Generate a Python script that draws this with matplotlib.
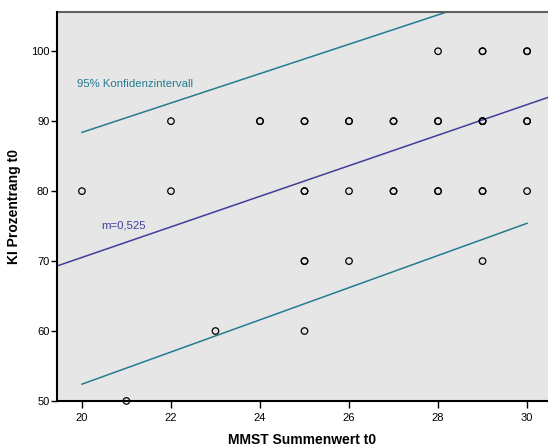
import numpy as np
import matplotlib
matplotlib.use("Agg")
import matplotlib.pyplot as plt

plt.rcParams['font.family'] = ['Liberation Sans', 'DejaVu Sans']

# MMST score and KI percentile rank at t0 (repeated pairs = overlapping cases)
mmst = [20, 21, 22, 22, 23, 24, 24, 25, 25, 25, 25, 25, 25, 25,
        26, 26, 26, 26, 27, 27, 27, 27, 28, 28, 28, 28, 28,
        29, 29, 29, 29, 29, 29, 29, 29, 30, 30, 30, 30, 30]
ki_rank = [80, 50, 90, 80, 60, 90, 90, 90, 90, 80, 80, 70, 70, 60,
           90, 90, 80, 70, 90, 90, 80, 80, 100, 90, 90, 80, 80,
           100, 100, 90, 90, 90, 80, 80, 70, 100, 100, 90, 90, 80]

# linear fit and 95% interval bounds
fit_intercept = 26.82
fit_slope = 2.185
ci_x = [20, 30]
ci_upper = [88.4, 109.4]
ci_lower = [52.4, 75.4]
slope_label = "m=0,525"

fig = plt.figure(figsize=(5.48, 4.47), dpi=100)
ax = fig.add_axes([0.104, 0.103, 0.896, 0.870])
ax.set_facecolor('#E6E6E6')

ax.set_xlim(19.44, 30.47)
ax.set_ylim(50, 105.6)

xs = np.array(ax.get_xlim())
ax.plot(xs, fit_intercept + fit_slope * xs, color='#3F3F99', lw=1.1, zorder=2)
ax.plot(ci_x, ci_upper, color='#257B92', lw=1.1, zorder=2)
ax.plot(ci_x, ci_lower, color='#257B92', lw=1.1, zorder=2)

ax.scatter(mmst, ki_rank, s=22, facecolors='none', edgecolors='black',
           linewidths=0.9, zorder=3, clip_on=False)

ax.text(19.89, 95.3, "95% Konfidenzintervall", color='#257B92', fontsize=8.2,
        va='center', ha='left')
ax.text(20.43, 75.1, slope_label, color='#3F3F99', fontsize=8.2,
        va='center', ha='left')

ax.set_xticks([20, 22, 24, 26, 28, 30])
ax.set_yticks([50, 60, 70, 80, 90, 100])
ax.tick_params(direction='out', width=1, labelsize=8, colors='black')
ax.tick_params(axis='x', length=5, pad=4)
ax.tick_params(axis='y', length=4, pad=1.5)
ax.set_xlabel("MMST Summenwert t0", fontsize=10, fontweight='bold', labelpad=7)
ax.set_ylabel("KI Prozentrang t0", fontsize=10, fontweight='bold', labelpad=7)

for side in ['top', 'right']:
    ax.spines[side].set_visible(False)
ax.spines['left'].set_linewidth(1.5)
ax.spines['bottom'].set_linewidth(1.5)
ax.axhline(105.6, color='#606060', lw=1.5, clip_on=False)

fig.savefig("out.png", dpi=100)
